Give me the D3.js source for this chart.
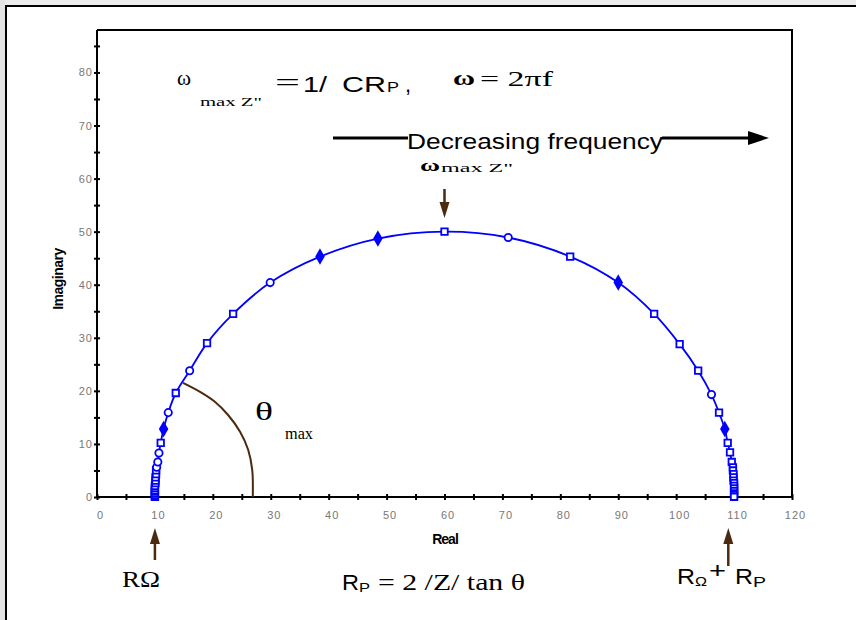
<!DOCTYPE html>
<html>
<head>
<meta charset="utf-8">
<script src="https://cdn.jsdelivr.net/npm/d3@7"></script>
<style>
  body { margin: 0; background: #fff; }
  svg { display: block; }
</style>
</head>
<body>
<div id="chart"></div>
<script>
// Nyquist data (real vs imaginary impedance)
const realZ = [10.0, 10.0, 10.0, 10.0, 10.0, 10.0, 10.0, 10.0, 10.1, 10.1, 10.1, 10.2, 10.2, 10.3,
  10.5, 10.7, 11.0, 11.5, 12.3, 13.6, 16.0, 19.0, 23.5, 29.9, 38.5, 48.5, 60.0, 71.0, 81.7, 90.0,
  96.2, 100.6, 103.8, 106.1, 107.4, 108.4, 108.9, 109.3, 109.6, 109.8, 109.8, 109.9, 109.9, 109.9,
  110.0, 110.0, 110.0, 110.0, 110.0, 110.0, 110.0];
const imagZ = [0.05, 0.2, 0.4, 0.7, 1.0, 1.3, 1.7, 2.1, 2.6, 3.1, 3.7, 4.3, 5.0, 5.6,
  6.6, 8.3, 10.2, 12.8, 15.9, 19.6, 23.8, 29.0, 34.5, 40.4, 45.3, 48.7, 50.0, 48.9, 45.3, 40.4,
  34.5, 28.8, 23.8, 19.3, 15.9, 12.8, 10.2, 8.4, 6.6, 5.6, 5.0, 4.3, 3.7, 3.1,
  2.6, 2.1, 1.6, 1.1, 0.7, 0.35, 0.05];
const markerKind = ['s', 's', 's', 's', 's', 's', 's', 's', 's', 's', 's', 's', 's', 'c',
  'c', 'c', 's', 'd', 'c', 's', 'c', 's', 's', 'c', 'd', 'd', 's', 'c', 's', 'd',
  's', 's', 's', 'c', 's', 'd', 's', 's', 's', 's', 's', 's', 's', 's',
  's', 's', 's', 's', 's', 's', 's'];

// theta_max annotation arc (data coords)
const thetaArcReal = [14.85, 17.8, 20.4, 22.6, 24.7, 26.1, 26.8, 26.9];
const thetaArcImag = [21.5, 19.8, 17.9, 15.5, 12.3, 8.9, 5.1, 0];

const xTickValues = [0, 5, 10, 15, 20, 25, 30, 35, 40, 45, 50, 55, 60, 65, 70, 75, 80, 85, 90, 95, 100, 105, 110, 115, 120];
const yTickValues = [0, 5, 10, 15, 20, 25, 30, 35, 40, 45, 50, 55, 60, 65, 70, 75, 80, 85];

const width = 856;
const height = 620;
const brown = '#4b2a10';
const blue = '#0000ff';
const serif = '"Liberation Serif", "Times New Roman", serif';
const sans = '"Liberation Sans", Arial, sans-serif';

const svg = d3.select('#chart')
  .append('svg')
  .attr('width', width)
  .attr('height', height);

// window-ish frame
svg.append('rect').attr('x', 0).attr('y', 0).attr('width', width).attr('height', 5).attr('fill', '#ececec');
svg.append('rect').attr('x', 0).attr('y', 0).attr('width', 5).attr('height', height).attr('fill', '#e4e4e4');
svg.append('rect').attr('x', 5).attr('y', 5).attr('width', width - 5).attr('height', 2).attr('fill', '#000');
svg.append('rect').attr('x', 5).attr('y', 5).attr('width', 2).attr('height', height - 5).attr('fill', '#000');

const x = d3.scaleLinear().domain([0, 120]).range([97, 792]);
const y = d3.scaleLinear().domain([0, 88]).range([497, 30]);

// plot box (top + right)
svg.append('path')
  .attr('d', `M${x(0)},${y(88)}H${x(120)}V${y(0)}`)
  .attr('fill', 'none')
  .attr('stroke', '#000')
  .attr('stroke-width', 2);

// x axis
const xAxis = svg.append('g')
  .attr('transform', `translate(0,${y(0)})`)
  .call(d3.axisBottom(x).tickValues(xTickValues).tickSize(3).tickFormat((d) => (d % 10 === 0 ? d : '')));
xAxis.select('.domain').attr('stroke-width', 2).attr('d', `M${x(0)},0H${x(120)}`);
xAxis.selectAll('.tick line').attr('y1', -3).attr('y2', 3).attr('stroke-width', 2);
xAxis.selectAll('.tick text')
  .attr('y', 14)
  .attr('dx', 3)
  .attr('fill', '#777')
  .style('font-family', sans)
  .style('font-size', '11px')
  .style('letter-spacing', '1px');

// y axis
const yAxis = svg.append('g')
  .attr('transform', `translate(${x(0)},0)`)
  .call(d3.axisLeft(y).tickValues(yTickValues).tickSize(3).tickPadding(1).tickFormat((d) => (d % 10 === 0 ? d : '')));
yAxis.select('.domain').attr('stroke-width', 2).attr('d', `M0,${y(0)}V${y(88)}`);
yAxis.selectAll('.tick line').attr('x1', -3).attr('x2', 3).attr('stroke-width', 2);
yAxis.selectAll('.tick text')
  .attr('fill', '#777')
  .style('font-family', sans)
  .style('font-size', '11px')
  .style('letter-spacing', '1px');

// axis titles
svg.append('text')
  .attr('x', 445)
  .attr('y', 544)
  .attr('text-anchor', 'middle')
  .style('font-family', sans)
  .style('font-size', '14px')
  .style('font-weight', 'bold')
  .style('letter-spacing', '-1px')
  .text('Real');

svg.append('text')
  .attr('transform', 'translate(63,279) rotate(-90)')
  .attr('text-anchor', 'middle')
  .style('font-family', sans)
  .style('font-size', '14px')
  .style('font-weight', 'bold')
  .style('letter-spacing', '-0.5px')
  .text('Imaginary');

// theta arc
const points = realZ.map((r, i) => ({ r, im: imagZ[i], kind: markerKind[i] }));
const arcPts = thetaArcReal.map((r, i) => ({ r, im: thetaArcImag[i] }));

svg.append('path')
  .datum(arcPts)
  .attr('fill', 'none')
  .attr('stroke', brown)
  .attr('stroke-width', 2)
  .attr('d', d3.line().x((d) => x(d.r)).y((d) => y(d.im)).curve(d3.curveCatmullRom));

// semicircle line
svg.append('path')
  .datum(points)
  .attr('fill', 'none')
  .attr('stroke', blue)
  .attr('stroke-width', 1.8)
  .attr('d', d3.line().x((d) => x(d.r)).y((d) => y(d.im)).curve(d3.curveCatmullRom));

// markers
const symbolFor = { s: d3.symbolSquare, c: d3.symbolCircle, d: d3.symbolDiamond };
svg.append('g')
  .selectAll('path')
  .data(points)
  .enter()
  .append('path')
  .attr('transform', (d) => `translate(${x(d.r)},${y(d.im)})`)
  .attr('d', (d) => d3.symbol().type(symbolFor[d.kind]).size(d.kind === 'd' ? 48 : 42)())
  .attr('fill', (d) => (d.kind === 'd' ? blue : '#fff'))
  .attr('stroke', blue)
  .attr('stroke-width', 1.8);

// small brown arrows
function brownArrow(cx, yFrom, yTip) {
  const dir = yTip < yFrom ? 1 : -1;
  svg.append('line')
    .attr('x1', cx).attr('x2', cx)
    .attr('y1', yFrom).attr('y2', yTip + dir * 8)
    .attr('stroke', brown)
    .attr('stroke-width', 2.5);
  svg.append('path')
    .attr('d', `M${cx},${yTip}L${cx + 5},${yTip + dir * 16}L${cx - 5},${yTip + dir * 16}Z`)
    .attr('fill', brown);
}
brownArrow(x(10), 560, 528);
brownArrow(x(109), 566, 528);
brownArrow(x(60), 189, 218);

// helper for stretched text pieces
function label(txt, x0, yb, len, size, family, extra) {
  const t = svg.append('text')
    .attr('x', x0)
    .attr('y', yb)
    .style('font-family', family)
    .style('font-size', `${size}px`)
    .text(txt);
  if (len) t.attr('textLength', len).attr('lengthAdjust', 'spacingAndGlyphs');
  if (extra) extra(t);
  return t;
}

// decreasing frequency arrow
svg.append('line').attr('x1', 333).attr('x2', 408).attr('y1', 138).attr('y2', 138)
  .attr('stroke', '#000').attr('stroke-width', 3);
svg.append('line').attr('x1', 662).attr('x2', 752).attr('y1', 138).attr('y2', 138)
  .attr('stroke', '#000').attr('stroke-width', 3);
svg.append('path').attr('d', 'M748,131L769,138L748,145Z').attr('fill', '#000');
label('Decreasing frequency', 407, 149, 256, 22, sans);

// top formula
label('ω', 177, 85, 14, 21, serif);
label('max  Z"', 200, 106, 62, 13, serif);
label('=', 275, 90, 25, 24, serif);
label('1/', 303, 92, 24, 22, sans);
label('CR', 342, 92, 44, 22, sans);
label('P', 387, 92, 12, 15, sans);
label(',', 405, 92, 0, 22, sans);
label('ω', 453, 85, 22, 21, serif, (t) => t.style('font-weight', 'bold'));
label('= 2πf', 480, 86, 73, 22, serif);

// omega max label
label('ω', 420, 171, 20, 16, serif, (t) => t.style('font-weight', 'bold'));
label('max Z"', 441, 172, 72, 13, serif);

// theta max label
label('θ', 255, 420, 18, 25, serif);
label('max', 285, 439, 28, 16, serif);

// bottom labels
label('RΩ', 122, 587, 38, 23, serif);

label('R', 342, 590, 17, 22, sans);
label('P', 359, 592, 11, 13, sans);
label('= 2 /Z/ tan θ', 378, 590, 147, 23, serif);

label('R', 677, 584, 18, 22, sans);
label('Ω', 695, 586, 12, 13, sans);
label('+', 709, 578, 17, 22, sans, (t) => t.style('font-weight', '300'));
label('R', 735, 584, 18, 22, sans);
label('P', 753, 587, 13, 14, sans);
</script>
</body>
</html>
